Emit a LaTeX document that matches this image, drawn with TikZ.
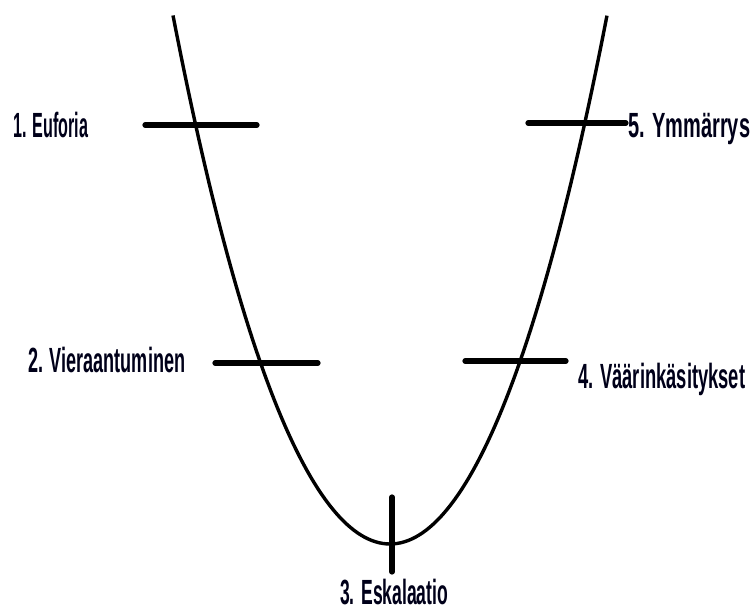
\documentclass[tikz,border=0pt]{standalone}
\usepackage{fontspec}
\usepackage{graphicx}
\setmainfont{Liberation Sans}
\newcommand\fitw[2]{\resizebox{#1}{\height}{#2}}
\begin{document}
\begin{tikzpicture}[x=1pt,y=-1pt,
  curve/.style={line width=3.4pt,black},
  tickmark/.style={line width=5.2pt,black,line cap=round},
  lbl/.style={inner sep=0pt,font=\bfseries\fontsize{35}{37}\selectfont,text=black!90!blue}]
\useasboundingbox (0,0) rectangle (756,610);
% the U curve
\draw[curve] plot[domain=-2.17:2.17,samples=121]
  ({390+100*\x},{544-105.7*\x*\x-1.39*\x*\x*\x*\x});
% tick marks
\coordinate (t1a) at (145,125); \coordinate (t1b) at (257,125);
\coordinate (t2a) at (215,363); \coordinate (t2b) at (318,363);
\coordinate (t3a) at (392,497); \coordinate (t3b) at (392,572);
\coordinate (t4a) at (465,361); \coordinate (t4b) at (566,361);
\coordinate (t5a) at (528,123); \coordinate (t5b) at (626,123);
\draw[tickmark] (t1a) -- (t1b);
\draw[tickmark] (t2a) -- (t2b);
\draw[tickmark] (t3a) -- (t3b);
\draw[tickmark] (t4a) -- (t4b);
\draw[tickmark] (t5a) -- (t5b);
% labels
\node[lbl,anchor=base west] (l1) at (13,138) {\fitw{75pt}{1. Euforia}};
\node[lbl,anchor=base west] (l2) at (28,372) {\fitw{157pt}{2. Vieraantuminen}};
\node[lbl,anchor=base west] (l3) at (340,604) {\fitw{108pt}{3. Eskalaatio}};
\node[lbl,anchor=base west] (l4) at (578,388) {\fitw{167pt}{4. Väärinkäsitykset}};
\node[lbl,anchor=base west] (l5) at (628,138) {\fitw{122pt}{5. Ymmärrys}};
\end{tikzpicture}
\end{document}
